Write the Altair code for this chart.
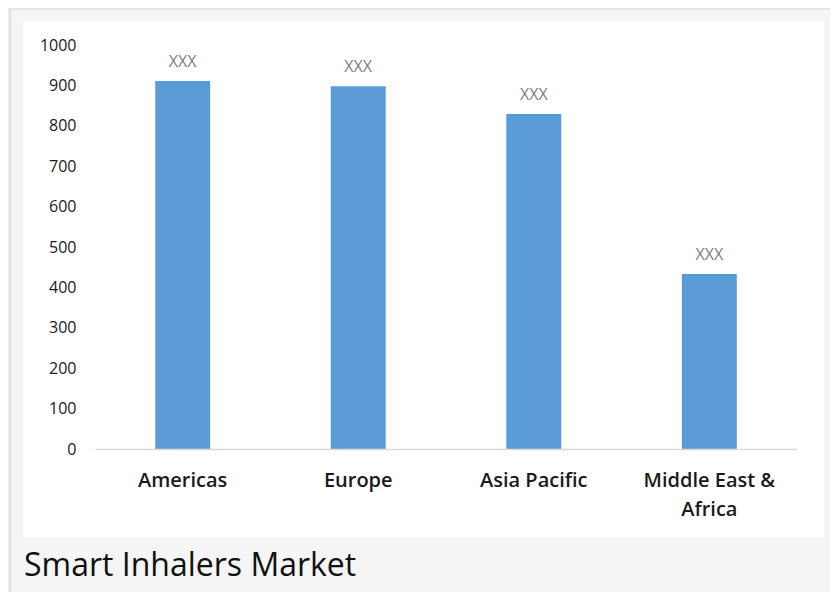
import altair as alt
import pandas as pd

regions = ["Americas", "Europe", "Asia Pacific", "Middle East & Africa"]
values = [911, 898, 829, 433]
labels = ["XXX", "XXX", "XXX", "XXX"]
y_ticks = [0, 100, 200, 300, 400, 500, 600, 700, 800, 900, 1000]
title_text = "Smart Inhalers Market"

df = pd.DataFrame({"region": regions, "value": values, "label": labels})
one = pd.DataFrame({"k": [0]})
title_df = pd.DataFrame({"t": [title_text]})

x_enc = alt.X(
    "region:N",
    sort=regions,
    scale=alt.Scale(paddingInner=0.687, paddingOuter=0.343),
    axis=alt.Axis(
        title=None,
        labelAngle=0,
        ticks=False,
        domain=True,
        domainColor="#d9d9d9",
        domainWidth=1.5,
        labelFontSize=20,
        labelFontWeight=600,
        labelColor="#1a1a1a",
        labelPadding=21,
        labelLineHeight=29,
        labelExpr="datum.label == 'Middle East & Africa' ? ['Middle East &', 'Africa'] : datum.label",
        zindex=2,
    ),
)
y_enc = alt.Y(
    "value:Q",
    scale=alt.Scale(domain=[0, 1000], nice=False),
    axis=alt.Axis(
        title=None,
        values=y_ticks,
        format="d",
        grid=False,
        ticks=False,
        domain=False,
        labelFontSize=16,
        labelColor="#1a1a1a",
        labelPadding=19,
        zindex=2,
    ),
)

frame = alt.Chart(one).mark_rect(fill="#f5f5f5", stroke="#e3e3e3", strokeWidth=2.5).encode(
    x=alt.value(-85), x2=alt.value(760), y=alt.value(-36.5), y2=alt.value(620)
)
panel = alt.Chart(one).mark_rect(fill="white").encode(
    x=alt.value(-72), x2=alt.value(729), y=alt.value(-24), y2=alt.value(492)
)

bars = alt.Chart(df).mark_bar(color="#5b9bd5").encode(x=x_enc, y=y_enc)
text = alt.Chart(df).mark_text(
    baseline="alphabetic", dy=-14, fontSize=16, color="#808080"
).encode(x=alt.X("region:N", sort=regions), y="value:Q", text="label:N")

title = alt.Chart(title_df).mark_text(
    align="left", baseline="alphabetic", fontSize=32, color="#111111"
).encode(x=alt.value(-71), y=alt.value(531), text="t:N")

chart = (
    alt.layer(frame, panel, bars, text, title)
    .properties(
        width=702,
        height=404,
        padding={"left": 87, "top": 37, "right": 33, "bottom": 143},
        autosize=alt.AutoSizeParams(type="none"),
    )
    .configure(font="Open Sans", background="#f5f5f5")
    .configure_view(stroke=None)
)

chart.save("out.html", embed_options={"renderer": "svg", "actions": False})
